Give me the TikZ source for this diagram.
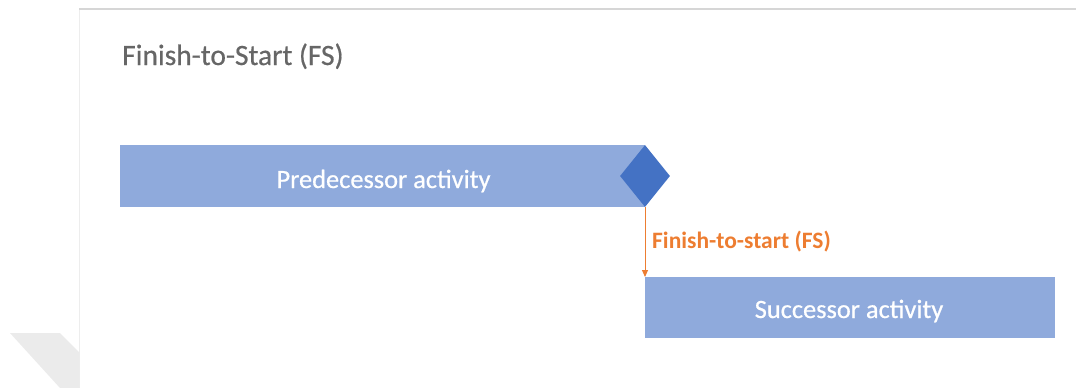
\documentclass[tikz,border=0pt]{standalone}
\usepackage{fontspec}
\setmainfont{Carlito}
\newfontfamily\semibold{Carlito}[FakeBold=0.6]
\usetikzlibrary{shapes.geometric,arrows.meta}
\definecolor{barblue}{HTML}{8FAADC}
\definecolor{msblue}{HTML}{4472C4}
\definecolor{linkorange}{HTML}{ED7D31}
\definecolor{titlegray}{HTML}{666666}
\definecolor{framegray}{HTML}{D6D6D6}
\tikzset{
  bar/.style={fill=barblue, draw=none},
  bartext/.style={text=white, inner sep=0pt, anchor=base, font=\semibold\fontsize{26.4}{30}\selectfont},
  milestone/.style={diamond, fill=msblue, draw=none, minimum width=50pt, minimum height=62pt, inner sep=0pt},
  link/.style={draw=linkorange, line width=1pt, -{Triangle[length=7pt,width=6pt]}},
}
\begin{document}
\begin{tikzpicture}[x=1pt,y=-1pt]
\useasboundingbox (0,0) rectangle (1076,388);
% slide frame
\fill[framegray] (79,7.5) rectangle (1076,10);
\fill[framegray!45] (78.5,10) rectangle (80,388);
\fill[framegray!50] (10,333) -- (60,333) -- (79,352) -- (79,388) -- (60,388) -- cycle;
% title
\node[anchor=base west, text=titlegray, font=\semibold\fontsize{29.5}{34}\selectfont, inner sep=0pt] (title) at (122,65) {Finish-to-Start (FS)};
% bars
\path[bar] (120,145) rectangle (645,207);
\node[bartext] (pred) at (383.5,188) {Predecessor activity};
\path[bar] (645,277) rectangle (1055,338);
\node[bartext] (succ) at (849,318) {Successor activity};
% milestone and link
\node[milestone] (ms) at (645,176) {};
\coordinate (start) at (645,277);
\draw[link] (ms.south) -- (start);
\node[anchor=base west, text=linkorange, font=\bfseries\fontsize{23.5}{27}\selectfont, inner sep=0pt] (lbl) at (652,248) {Finish-to-start (FS)};
\end{tikzpicture}
\end{document}
